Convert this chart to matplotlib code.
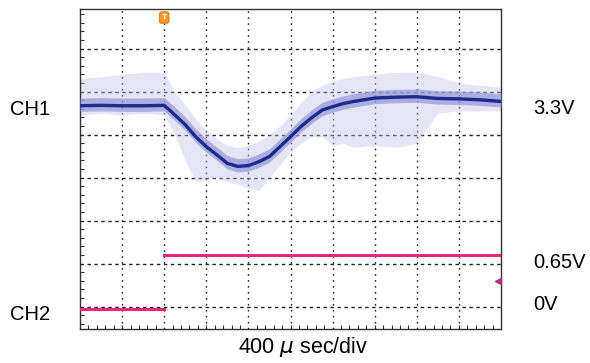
import matplotlib
matplotlib.use("Agg")
import matplotlib.pyplot as plt
from matplotlib.ticker import MultipleLocator

plt.rcParams['font.family'] = ['Liberation Sans', 'DejaVu Sans']

# time in divisions (400 us/div), levels in vertical divisions
t_ch1 = [0, 0.5, 1.0, 1.5, 2.0, 2.25, 2.5, 2.75, 3.0, 3.25, 3.5, 3.75, 4.0,
         4.25, 4.5, 4.75, 5.0, 5.25, 5.5, 5.75, 6.0, 6.25, 6.5, 7.0, 7.5,
         8.0, 8.5, 9.0, 9.5, 10.0]
ch1_mean = [4.67, 4.68, 4.67, 4.67, 4.68, 4.46, 4.23, 3.95, 3.72, 3.53, 3.33,
            3.26, 3.28, 3.37, 3.49, 3.72, 3.95, 4.19, 4.39, 4.57, 4.65, 4.72,
            4.77, 4.85, 4.87, 4.88, 4.84, 4.83, 4.81, 4.77]
# extent of the faint noise spikes
ch1_spike_hi = [5.3, 5.35, 5.4, 5.45, 5.45, 5.0, 4.7, 4.35, 4.1, 3.9, 3.75,
                3.7, 3.75, 3.85, 4.0, 4.2, 4.45, 4.75, 5.0, 5.15, 5.25, 5.3,
                5.35, 5.4, 5.45, 5.45, 5.35, 5.2, 5.15, 5.1]
ch1_spike_lo = [4.45, 4.5, 4.45, 4.5, 4.45, 4.0, 3.4, 2.9, 2.95, 3.0, 2.9,
                2.85, 2.75, 2.7, 3.0, 3.3, 3.6, 3.8, 3.95, 3.95, 3.75, 3.8,
                3.7, 3.75, 3.7, 3.8, 4.5, 4.55, 4.55, 4.55]

t_ch2_low = [0, 2.0]
ch2_low = [-0.05, -0.05]
t_ch2_high = [2.0, 10.0]
ch2_high = [1.21, 1.21]

trigger_t = 2.0
ch2_marker_level = 0.6

fig = plt.figure(figsize=(5.9, 3.63), dpi=100)
ax = fig.add_axes([80/590, 34/363, 421/590, 320/363])
ax.set_xlim(0, 10)
ax.set_ylim(-0.52, 6.92)

# graticule
for x in range(1, 10):
    ax.axvline(x, color='#222222', lw=1.0, ls=(0, (1.2, 3.1)), zorder=1)
for y in range(0, 7):
    ax.axhline(y, color='#222222', lw=1.0, ls=(0, (2.5, 2.5)), zorder=1)

ax.xaxis.set_minor_locator(MultipleLocator(0.2))
ax.yaxis.set_minor_locator(MultipleLocator(0.2))
ax.tick_params(which='both', direction='in', length=3, width=0.8,
               colors='#333333', labelleft=False, labelbottom=False)
ax.tick_params(which='major', length=0)
for s in ax.spines.values():
    s.set_color('#333333')
    s.set_linewidth(1.0)

# CH1 trace
ax.fill_between(t_ch1, ch1_spike_lo, ch1_spike_hi, color='#c0c0ea',
                alpha=0.4, lw=0, zorder=2)
ax.fill_between(t_ch1, [m - 0.13 for m in ch1_mean],
                [m + 0.18 for m in ch1_mean], color='#9497da',
                alpha=0.7, lw=0, zorder=3)
ax.plot(t_ch1, ch1_mean, color='#1c2a8c', lw=2.4, zorder=4)

# CH2 trace
ax.plot(t_ch2_low, ch2_low, color='#e6287c', lw=2.2, zorder=4)
ax.plot(t_ch2_high, ch2_high, color='#e6287c', lw=2.2, zorder=4)

# markers
ax.text(trigger_t, 6.72, 'T', ha='center', va='center', color='white',
        fontsize=6, fontweight='bold', zorder=6,
        bbox=dict(boxstyle='round,pad=0.25', fc='#f39a2c', ec='#e08a20'))
ax.plot([9.93], [ch2_marker_level], marker='<', color='#b52a7a',
        markersize=5, zorder=6, clip_on=False)

# labels
fig.text(10/590, 1 - 110/363, 'CH1', fontsize=14.5, va='center', ha='left')
fig.text(10/590, 1 - 314/363, 'CH2', fontsize=14.5, va='center', ha='left')
fig.text(533/590, 1 - 108/363, '3.3V', fontsize=14.5, va='center', ha='left')
fig.text(533/590, 1 - 262/363, '0.65V', fontsize=14.5, va='center', ha='left')
fig.text(533/590, 1 - 304/363, '0V', fontsize=14.5, va='center', ha='left')
fig.text(303/590, 4/363, '400 $\\mu$ sec/div', fontsize=15.5,
         va='bottom', ha='center')

fig.savefig('out.png', dpi=100)
